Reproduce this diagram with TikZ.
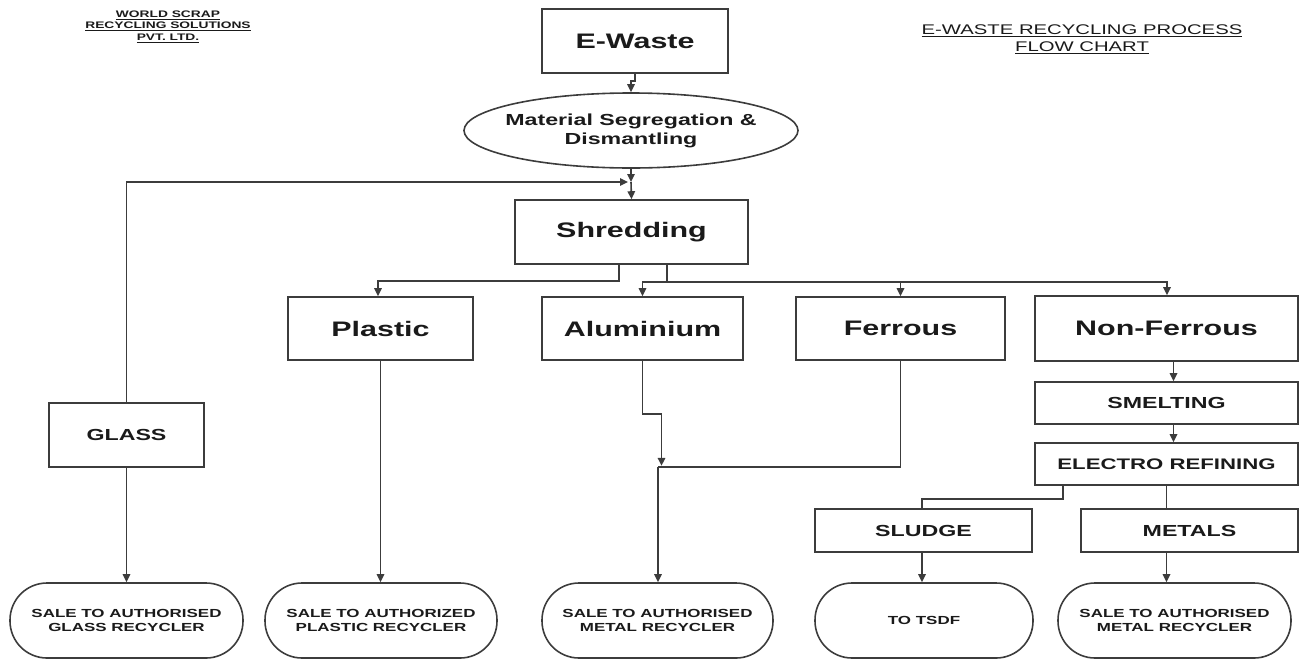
\documentclass[tikz,border=0pt]{standalone}
\usepackage{fontspec}
\setmainfont{Liberation Sans}[FakeStretch=1.45]
\usetikzlibrary{arrows.meta,shapes.geometric,calc}
\definecolor{lin}{HTML}{3C3C3C}
\definecolor{txt}{HTML}{1A1A1A}
\tikzset{
  base/.style={draw=lin, line width=1.6pt, text=txt, inner sep=0pt, align=center, font=\bfseries},
  box/.style={base, rectangle},
  big/.style={font=\fontsize{21}{24}\selectfont\bfseries},
  mid/.style={font=\fontsize{16}{19}\selectfont\bfseries},
  term/.style={base, rectangle, rounded corners=37pt, minimum height=75pt, font=\fontsize{11.7}{14}\selectfont\bfseries},
  conn/.style={draw=lin, line width=1.6pt},
  arr/.style={conn, -{Triangle[length=8pt,width=7.5pt]}}
}
\begin{document}
\begin{tikzpicture}[x=1pt,y=-1pt]
\useasboundingbox (0,0) rectangle (1308,659);
% headers
\node[text=txt, align=center, font=\fontsize{9.5}{11.5}\selectfont\bfseries] (hl) at (168,26.5)
  {\underline{WORLD SCRAP}\\\underline{RECYCLING SOLUTIONS}\\\underline{PVT. LTD.}};
\node[text=txt, align=center, font=\fontsize{14}{17}\selectfont] (hr) at (1082,39.5)
  {\underline{E-WASTE RECYCLING PROCESS}\\\underline{FLOW CHART}};
% nodes
\node[box, big, minimum width=186pt, minimum height=64pt] (ewaste) at (635,41) {E-Waste};
\node[base, ellipse, minimum width=334pt, minimum height=75pt] (seg) at (631,130.5) {};
\node[text=txt, align=center, mid, inner sep=0pt] (segt) at (seg.center) {Material Segregation \&\\Dismantling};
\node[box, big, minimum width=233pt, minimum height=64pt] (shred) at (631.5,232) {Shredding};
\node[box, big, minimum width=185pt, minimum height=63pt] (plastic) at (380.5,328.5) {Plastic};
\node[box, big, minimum width=201pt, minimum height=63pt] (alum) at (642.5,328.5) {Aluminium};
\node[box, big, minimum width=209pt, minimum height=63pt] (ferrous) at (900.5,328.5) {Ferrous};
\node[box, big, minimum width=263pt, minimum height=65pt] (nonfer) at (1166.5,328.5) {Non-Ferrous};
\node[box, mid, minimum width=263pt, minimum height=42pt] (smelt) at (1166.5,403) {SMELTING};
\node[box, mid, font=\fontsize{15.3}{18}\selectfont\bfseries, minimum width=263pt, minimum height=42pt] (electro) at (1166.5,464) {ELECTRO REFINING};
\node[box, mid, minimum width=155pt, minimum height=64pt] (glass) at (126.5,435) {GLASS};
\node[box, mid, minimum width=217pt, minimum height=43pt] (sludge) at (923.5,530.5) {SLUDGE};
\node[box, mid, minimum width=217pt, minimum height=43pt] (metals) at (1189.5,530.5) {METALS};
\node[term, minimum width=233pt] (t1) at (126.5,620.5) {SALE TO AUTHORISED\\GLASS RECYCLER};
\node[term, minimum width=232pt] (t2) at (381,620.5) {SALE TO AUTHORIZED\\PLASTIC RECYCLER};
\node[term, minimum width=231pt] (t3) at (657.5,620.5) {SALE TO AUTHORISED\\METAL RECYCLER};
\node[term, minimum width=218pt] (t4) at (924,620.5) {TO TSDF};
\node[term, minimum width=233pt] (t5) at (1174.5,620.5) {SALE TO AUTHORISED\\METAL RECYCLER};
% coordinates
\coordinate (j1) at (631,182);
\coordinate (j2) at (658,467);
% connectors
\draw[arr] (ewaste.south) -- ++(0,7) -| (seg.north);
\draw[arr] (seg.south) -- (j1);
\draw[arr] (j1) -- (shred.north);
\draw[arr, shorten >=3pt] (glass.north) |- (j1);
\draw[arr] ([xshift=-12.5pt]shred.south) -- ++(0,16) -| ([xshift=-2.5pt]plastic.north);
\draw[conn] ([xshift=35.5pt]shred.south) -- ++(0,17) coordinate (b1);
\draw[arr] (b1) -| (alum.north);
\draw[arr] (b1) -| (ferrous.north);
\draw[arr] (b1) -| ([xshift=0.5pt]nonfer.north);
\draw[arr] ([xshift=7pt]nonfer.south) -- ([xshift=7pt]smelt.north);
\draw[arr] ([xshift=7pt]smelt.south) -- ([xshift=7pt]electro.north);
\draw[conn] ([xshift=-103.5pt]electro.south) -- ++(0,13) -| ([xshift=-1.5pt]sludge.north);
\draw[conn] (electro.south) -- (electro.south |- metals.north);
\draw[arr] (glass.south) -- (t1.north);
\draw[arr] (plastic.south) -- (plastic.south |- t2.north);
\draw[arr] (alum.south) -- ++(0,53) -- ++(19,0) -- ++(0,52);
\draw[conn] (ferrous.south) |- (j2);
\draw[arr] (j2) -- (j2 |- t3.north);
\draw[arr] ([xshift=-1.5pt]sludge.south) -- ([xshift=-1.5pt]sludge.south |- t4.north);
\draw[arr] (electro.south |- metals.south) -- (electro.south |- t5.north);
\end{tikzpicture}
\end{document}
